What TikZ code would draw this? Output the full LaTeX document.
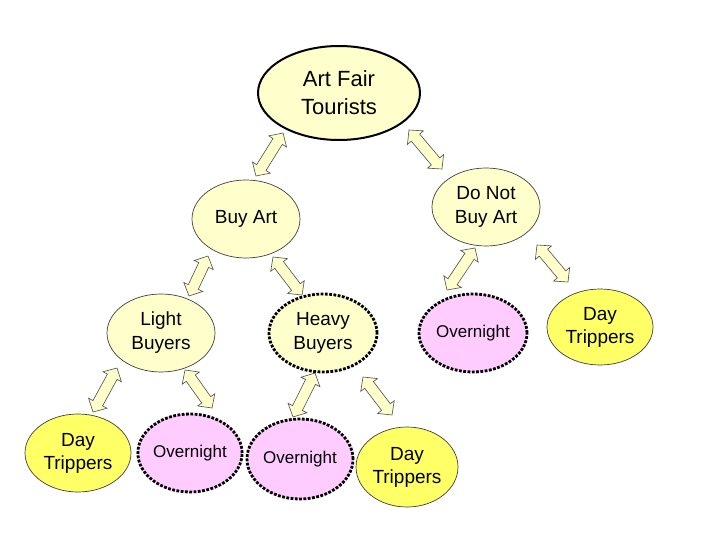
\documentclass[tikz,border=0pt]{standalone}
\usepackage{fontspec}
\setmainfont{Liberation Sans}
\usetikzlibrary{shapes.geometric,calc}
\definecolor{paleyel}{HTML}{FFFFCC}
\definecolor{brightyel}{HTML}{FFFF66}
\definecolor{pinkfill}{HTML}{FFCCFF}
\tikzset{
  ell/.style={ellipse, inner sep=0pt, align=center, minimum width=108pt, minimum height=78pt,
     font=\fontsize{19}{24}\selectfont},
  pale/.style={ell, fill=paleyel, draw=black!75, line width=0.7pt},
  daytrip/.style={ell, fill=brightyel, draw=black!75, line width=0.7pt, font=\fontsize{19}{23}\selectfont},
  dotbox/.style={dash pattern=on 2.8pt off 1.5pt, line width=2.8pt, draw=black},
  night/.style={ell, fill=pinkfill, dotbox, font=\fontsize{17}{20}\selectfont},
  blockarrow/.style={fill=paleyel, draw=black!70, line width=0.6pt, line join=miter}
}
\newcommand{\dblarrow}[2]{%
  \path[blockarrow] (#1)
   -- ($($(#1)!10pt!(#2)$)!10.5pt!90:(#2)$)
   -- ($($(#1)!10pt!(#2)$)!5.5pt!90:(#2)$)
   -- ($($(#2)!10pt!(#1)$)!5.5pt!-90:(#1)$)
   -- ($($(#2)!10pt!(#1)$)!10.5pt!-90:(#1)$)
   -- (#2)
   -- ($($(#2)!10pt!(#1)$)!10.5pt!90:(#1)$)
   -- ($($(#2)!10pt!(#1)$)!5.5pt!90:(#1)$)
   -- ($($(#1)!10pt!(#2)$)!5.5pt!-90:(#2)$)
   -- ($($(#1)!10pt!(#2)$)!10.5pt!-90:(#2)$)
   -- cycle;}
\begin{document}
\begin{tikzpicture}[x=1pt,y=-1pt]
\useasboundingbox (0,0) rectangle (720,540);
% nodes
\node[ell, fill=paleyel, draw=black, line width=2pt, minimum width=162pt, minimum height=94pt,
      font=\fontsize{22}{28}\selectfont] (top) at (339,93) {Art Fair\\Tourists};
\node[pale] (buy) at (246,219) {Buy Art};
\node[pale] (notbuy) at (486,207) {Do Not\\Buy Art};
\node[pale] (light) at (161,333) {Light\\Buyers};
\node[ell, fill=paleyel, dotbox, minimum width=108pt, minimum height=78pt] (heavy) at (323,333) {Heavy\\Buyers};
\node[night] (nightR) at (473,333) {Overnight};
\node[daytrip, minimum width=106pt, minimum height=76pt] (dayR) at (600,327) {Day\\Trippers};
\node[daytrip, minimum width=106pt, minimum height=78pt] (dayL) at (78,453) {Day\\Trippers};
\node[night, minimum width=104pt] (nightL) at (190,453) {Overnight};
\node[night, minimum width=106pt, minimum height=80pt] (nightM) at (300,459) {Overnight};
\node[daytrip, minimum width=102pt, minimum height=80pt] (dayM) at (407,467) {Day\\Trippers};
% arrow end points
\coordinate (a1s) at (283,133); \coordinate (a1e) at (256,176);
\coordinate (a2s) at (409,130); \coordinate (a2e) at (442,169);
\coordinate (a3s) at (208,256); \coordinate (a3e) at (189,296);
\coordinate (a4s) at (273,257); \coordinate (a4e) at (302,295);
\coordinate (a5s) at (475,248); \coordinate (a5e) at (447,290);
\coordinate (a6s) at (537,245); \coordinate (a6e) at (568,282);
\coordinate (a7s) at (117,368); \coordinate (a7e) at (93,412);
\coordinate (a8s) at (185,370); \coordinate (a8e) at (212,408);
\coordinate (a9s) at (315,373); \coordinate (a9e) at (293,417);
\coordinate (a10s) at (363,377); \coordinate (a10e) at (392,415);
\dblarrow{a1s}{a1e}
\dblarrow{a2s}{a2e}
\dblarrow{a3s}{a3e}
\dblarrow{a4s}{a4e}
\dblarrow{a5s}{a5e}
\dblarrow{a6s}{a6e}
\dblarrow{a7s}{a7e}
\dblarrow{a8s}{a8e}
\dblarrow{a9s}{a9e}
\dblarrow{a10s}{a10e}
\end{tikzpicture}
\end{document}
